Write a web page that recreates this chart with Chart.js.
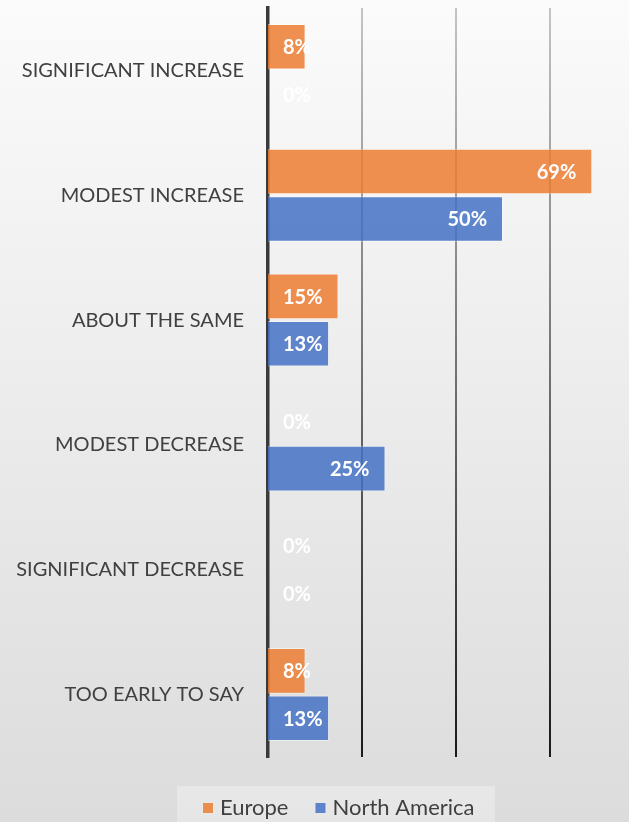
<!DOCTYPE html>
<html lang="en">
  <head>
    <meta charset="UTF-8" />
    <title>Expected change</title>
    <script src="https://cdn.jsdelivr.net/npm/chart.js"></script>
    <style>
      body {
        margin: 0;
        background: #ffffff;
      }
      #myChart {
        display: block;
      }
    </style>
  </head>
  <body>
    <canvas id="myChart" width="629" height="822"></canvas>
    <script>
      // categories and series
      var categories = [
        "SIGNIFICANT INCREASE",
        "MODEST INCREASE",
        "ABOUT THE SAME",
        "MODEST DECREASE",
        "SIGNIFICANT DECREASE",
        "TOO EARLY TO SAY",
      ];
      var seriesNames = ["Europe", "North America"];
      var europeValues = [8, 69, 15, 0, 0, 8];
      var northAmericaValues = [0, 50, 13, 25, 0, 13];
      var gridSteps = [20, 40, 60];

      var orange = "rgba(237, 125, 49, 0.85)";
      var blue = "rgba(68, 114, 196, 0.85)";
      var textGray = "#404040";

      // page background gradient
      var backgroundPlugin = {
        id: "bg",
        beforeDraw: function (chart) {
          var ctx = chart.ctx;
          var g = ctx.createLinearGradient(0, 0, 0, chart.height);
          g.addColorStop(0, "#fbfbfb");
          g.addColorStop(1, "#dcdcdc");
          ctx.save();
          ctx.fillStyle = g;
          ctx.fillRect(0, 0, chart.width, chart.height);
          ctx.restore();
        },
      };

      // white value labels, inside end of the bar
      var valueLabelPlugin = {
        id: "valueLabels",
        afterDatasetsDraw: function (chart) {
          var ctx = chart.ctx;
          ctx.save();
          ctx.font = "bold 20px Lato";
          ctx.fillStyle = "#ffffff";
          ctx.textBaseline = "middle";
          ctx.textAlign = "left";
          chart.data.datasets.forEach(function (ds, i) {
            var meta = chart.getDatasetMeta(i);
            meta.data.forEach(function (bar, j) {
              var text = ds.data[j] + "%";
              var w = ctx.measureText(text).width;
              var x = bar.x - 16 - w;
              if (x < bar.base + 15) x = bar.base + 15;
              ctx.fillText(text, x, bar.y + 1);
            });
          });
          ctx.restore();
        },
      };

      // legend box at the bottom
      var legendPlugin = {
        id: "bottomLegend",
        afterDraw: function (chart) {
          var ctx = chart.ctx;
          ctx.save();
          ctx.fillStyle = "rgba(255, 255, 255, 0.3)";
          ctx.fillRect(177, 786, 318, 40);
          ctx.font = "22px Lato";
          ctx.textBaseline = "middle";
          ctx.textAlign = "left";
          var x = 203;
          var y = 808;
          chart.data.datasets.forEach(function (ds) {
            ctx.fillStyle = ds.backgroundColor;
            ctx.fillRect(x, y - 5, 10, 10);
            ctx.fillStyle = textGray;
            ctx.fillText(ds.label, x + 17, y);
            x += 17 + ctx.measureText(ds.label).width + 27;
          });
          ctx.restore();
        },
      };

      function gridColor(context) {
        var chart = context.chart;
        var area = chart.chartArea;
        if (!area) return "#999999";
        var g = chart.ctx.createLinearGradient(0, area.top, 0, area.bottom);
        g.addColorStop(0, "#c4c4c4");
        g.addColorStop(1, "#1a1a1a");
        return g;
      }

      var ctx = document.getElementById("myChart").getContext("2d");
      var myChart = new Chart(ctx, {
        type: "bar",
        data: {
          labels: categories,
          datasets: [
            {
              label: seriesNames[0],
              data: europeValues,
              backgroundColor: orange,
              borderColor: "rgba(255, 255, 255, 0.45)",
              borderWidth: 1,
            },
            {
              label: seriesNames[1],
              data: northAmericaValues,
              backgroundColor: blue,
              borderColor: "rgba(255, 255, 255, 0.45)",
              borderWidth: 1,
            },
          ],
        },
        options: {
          indexAxis: "y",
          responsive: false,
          animation: false,
          layout: {
            padding: { top: 8, bottom: 65, left: 0, right: 0 },
          },
          categoryPercentage: 0.76,
          barPercentage: 0.96,
          scales: {
            x: {
              min: 0,
              max: 76.8,
              afterBuildTicks: function (scale) {
                scale.ticks = gridSteps.map(function (v) {
                  return { value: v };
                });
              },
              afterFit: function (scale) {
                scale.height = 0;
                scale.paddingLeft = 0;
                scale.paddingRight = 0;
              },
              ticks: { display: false },
              grid: {
                color: gridColor,
                lineWidth: 2,
                drawTicks: false,
              },
              border: { display: false },
            },
            y: {
              afterFit: function (scale) {
                scale.width = 268;
                scale.paddingTop = 0;
                scale.paddingBottom = 0;
              },
              ticks: {
                color: textGray,
                font: { family: "Lato", size: 20 },
                padding: 24,
              },
              grid: { display: false, drawTicks: false },
              border: { display: true, color: "#3a3a3a", width: 3.5 },
            },
          },
          plugins: {
            legend: { display: false },
            tooltip: { enabled: false },
          },
        },
        plugins: [backgroundPlugin, valueLabelPlugin, legendPlugin],
      });
    </script>
  </body>
</html>
